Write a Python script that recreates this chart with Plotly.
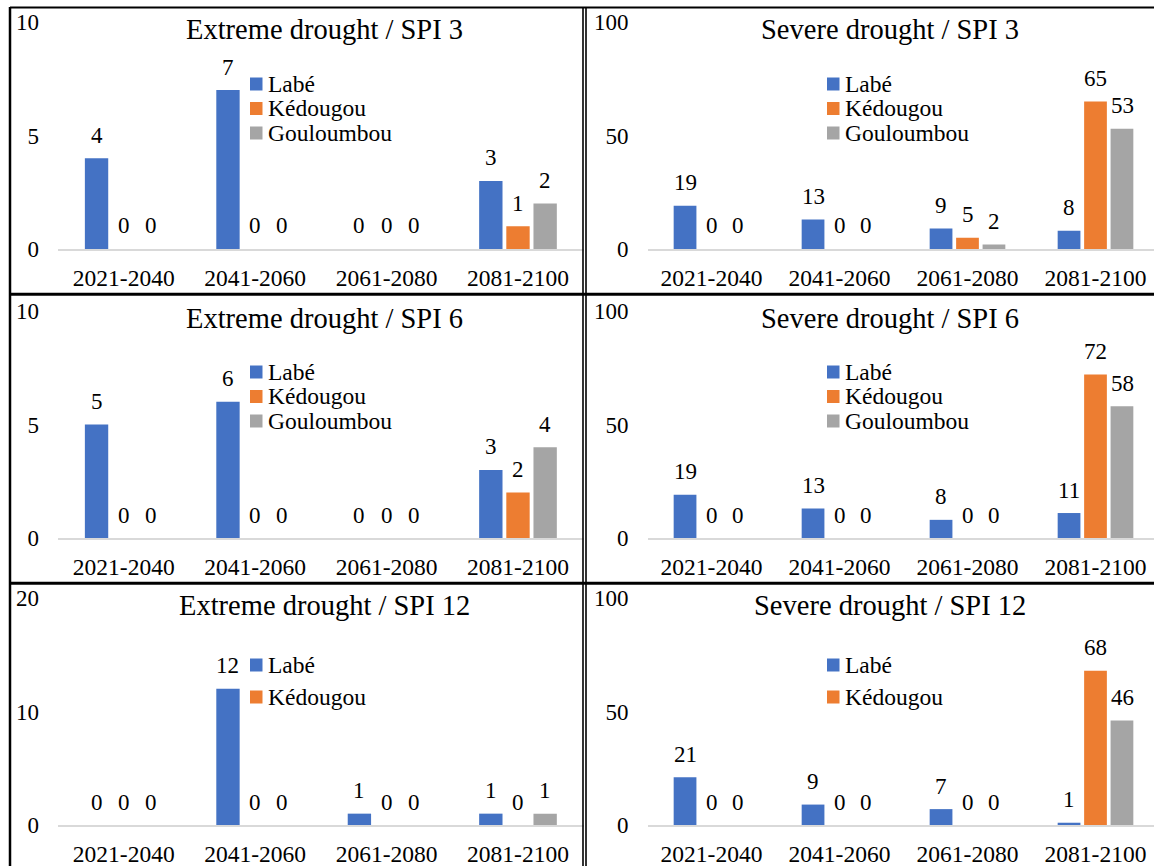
import plotly.graph_objects as go

# Periods and stations
periods = ["2021-2040", "2041-2060", "2061-2080", "2081-2100"]
stations = ["Labé", "Kédougou", "Gouloumbou"]
station_colors = ["#4472C4", "#ED7D31", "#A5A5A5"]

# Number of drought events per period
extreme_spi3_labe = [4, 7, 0, 3]
extreme_spi3_kedougou = [0, 0, 0, 1]
extreme_spi3_gouloumbou = [0, 0, 0, 2]

severe_spi3_labe = [19, 13, 9, 8]
severe_spi3_kedougou = [0, 0, 5, 65]
severe_spi3_gouloumbou = [0, 0, 2, 53]

extreme_spi6_labe = [5, 6, 0, 3]
extreme_spi6_kedougou = [0, 0, 0, 2]
extreme_spi6_gouloumbou = [0, 0, 0, 4]

severe_spi6_labe = [19, 13, 8, 11]
severe_spi6_kedougou = [0, 0, 0, 72]
severe_spi6_gouloumbou = [0, 0, 0, 58]

extreme_spi12_labe = [0, 12, 1, 1]
extreme_spi12_kedougou = [0, 0, 0, 0]
extreme_spi12_gouloumbou = [0, 0, 0, 1]

severe_spi12_labe = [21, 9, 7, 1]
severe_spi12_kedougou = [0, 0, 0, 68]
severe_spi12_gouloumbou = [0, 0, 0, 46]

# Panel definitions: title, series, y max, legend entries shown, row, col
panels = [
    ("Extreme drought / SPI 3", [extreme_spi3_labe, extreme_spi3_kedougou, extreme_spi3_gouloumbou], 10, 3, 0, 0),
    ("Severe drought / SPI 3", [severe_spi3_labe, severe_spi3_kedougou, severe_spi3_gouloumbou], 100, 3, 0, 1),
    ("Extreme drought / SPI 6", [extreme_spi6_labe, extreme_spi6_kedougou, extreme_spi6_gouloumbou], 10, 3, 1, 0),
    ("Severe drought / SPI 6", [severe_spi6_labe, severe_spi6_kedougou, severe_spi6_gouloumbou], 100, 3, 1, 1),
    ("Extreme drought / SPI 12", [extreme_spi12_labe, extreme_spi12_kedougou, extreme_spi12_gouloumbou], 20, 2, 2, 0),
    ("Severe drought / SPI 12", [severe_spi12_labe, severe_spi12_kedougou, severe_spi12_gouloumbou], 100, 2, 2, 1),
]

W, H = 1154, 866
FONT = "Liberation Serif"


def px_x(v):
    return v / W


def px_y(v):
    return 1 - v / H


# Plot-area geometry (pixels)
col_left = [58, 647.5]
col_right = [583.7, 1154]
col_range = [[-0.5, 3.5], [-0.5, 3.5 - 5.5 / 128]]
col_slot = [27.2, 26.5]          # width of one bar slot inside a group
row_top = [22, 311, 598]
row_base = [249, 538, 825]
title_x = [324, 890]
title_y = [29, 318, 605]
legend_sq_x = [250, 827]
legend_first_y = [84, 372, 665]
legend_step = [24.5, 24.5, 32]

fig = go.Figure()
annotations = []
shapes = []

for i, (title, series, ymax, n_leg, row, col) in enumerate(panels):
    k = "" if i == 0 else str(i + 1)
    xa, ya = "x" + k, "y" + k
    for j, vals in enumerate(series):
        fig.add_trace(go.Bar(
            x=periods, y=vals, name=stations[j],
            marker=dict(color=station_colors[j], line=dict(width=0)),
            xaxis=xa, yaxis=ya, showlegend=False, offsetgroup=str(j),
        ))
        for p, v in zip(periods, vals):
            annotations.append(dict(
                x=p, y=v, xref=xa, yref=ya, text=str(v), showarrow=False,
                xshift=(j - 1) * col_slot[col], yshift=23, yanchor="middle",
                font=dict(family=FONT, size=23, color="#000000"),
            ))

    fig.layout["xaxis" + k] = dict(
        domain=[px_x(col_left[col]), px_x(col_right[col])],
        anchor=ya, type="category", range=col_range[col],
        showline=True, linecolor="#D9D9D9", linewidth=1.5,
        showgrid=False, zeroline=False, ticks="", automargin=False,
        tickfont=dict(family=FONT, size=23.5, color="#000000"),
        ticklabelstandoff=7,
    )
    fig.layout["yaxis" + k] = dict(
        domain=[px_y(row_base[row]), px_y(row_top[row])],
        anchor=xa, range=[0, ymax], tickvals=[0, ymax / 2, ymax],
        showline=False, showgrid=False, zeroline=False, ticks="", automargin=False,
        tickfont=dict(family=FONT, size=23, color="#000000"),
        ticklabelstandoff=18,
    )

    annotations.append(dict(
        x=px_x(title_x[col]), y=px_y(title_y[row]), xref="paper", yref="paper",
        text=title, showarrow=False, xanchor="center", yanchor="middle",
        font=dict(family=FONT, size=28.5, color="#000000"),
    ))

    # Legend entries
    for j in range(n_leg):
        cy = legend_first_y[row] + j * legend_step[row]
        sx = legend_sq_x[col]
        shapes.append(dict(
            type="rect", xref="paper", yref="paper",
            x0=px_x(sx), x1=px_x(sx + 12.5), y0=px_y(cy - 6.5), y1=px_y(cy + 6.5),
            fillcolor=station_colors[j], line=dict(width=0),
        ))
        annotations.append(dict(
            x=px_x(sx + 16), y=px_y(cy), xref="paper", yref="paper",
            text=stations[j], showarrow=False, xanchor="left", yanchor="middle",
            font=dict(family=FONT, size=23.5, color="#000000"),
        ))

# Panel frames
frame = dict(color="#000000", width=2.5)
shapes += [
    dict(type="line", xref="paper", yref="paper", x0=px_x(10), x1=px_x(10), y0=0, y1=px_y(7), line=frame),
    dict(type="line", xref="paper", yref="paper", x0=px_x(10), x1=1, y0=px_y(7.5), y1=px_y(7.5), line=dict(color="#000000", width=2)),
    dict(type="line", xref="paper", yref="paper", x0=px_x(10), x1=1, y0=px_y(294.3), y1=px_y(294.3), line=dict(color="#000000", width=3)),
    dict(type="line", xref="paper", yref="paper", x0=px_x(10), x1=1, y0=px_y(583.3), y1=px_y(583.3), line=dict(color="#000000", width=3)),
    dict(type="line", xref="paper", yref="paper", x0=px_x(583), x1=px_x(583), y0=0, y1=px_y(7), line=dict(color="#000000", width=1.6)),
    dict(type="line", xref="paper", yref="paper", x0=px_x(586), x1=px_x(586), y0=0, y1=px_y(7), line=dict(color="#000000", width=1.6)),
]

fig.update_layout(
    width=W, height=H,
    margin=dict(l=0, r=0, t=0, b=0, autoexpand=False),
    paper_bgcolor="#FFFFFF", plot_bgcolor="#FFFFFF",
    barmode="group", bargap=0.38, bargroupgap=0.14,
    showlegend=False,
    annotations=annotations, shapes=shapes,
    font=dict(family=FONT, color="#000000"),
)

fig.write_html("out.html")
